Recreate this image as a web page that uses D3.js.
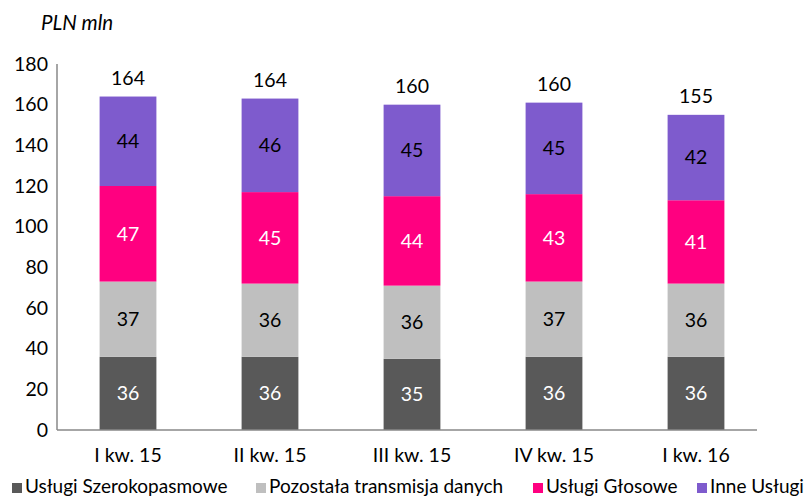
<!DOCTYPE html>
<html>
<head>
<meta charset="utf-8">
<script src="https://cdn.jsdelivr.net/npm/d3@7"></script>
<style>
  body { margin: 0; background: #fff; }
  svg text { font-family: Lato, "Open Sans", sans-serif; font-size: 19.5px; }
</style>
</head>
<body>
<div id="chart"></div>
<script>
// dane z wykresu
const quarters = ["I kw. 15", "II kw. 15", "III kw. 15", "IV kw. 15", "I kw. 16"];
const seriesNames = ["Usługi Szerokopasmowe", "Pozostała transmisja danych", "Usługi Głosowe", "Inne Usługi"];
const broadband = [36, 36, 35, 36, 36];
const otherData = [37, 36, 36, 37, 36];
const voice = [47, 45, 44, 43, 41];
const otherServices = [44, 46, 45, 45, 42];
const totals = [164, 164, 160, 160, 155];
const yTicks = [0, 20, 40, 60, 80, 100, 120, 140, 160, 180];

const colors = ["#595959", "#bfbfbf", "#ff0080", "#7e5bcd"];
const labelColors = ["#fff", "#000", "#fff", "#000"];

var width = 812, height = 499;

var svg = d3.select("#chart")
    .append("svg")
    .attr("width", width)
    .attr("height", height);

var x = d3.scaleBand()
    .domain(quarters)
    .range([57, 767])
    .paddingInner(0.6)
    .paddingOuter(0.3);

var y = d3.scaleLinear()
    .domain([0, 180])
    .range([430, 64]);

// tabela do stosu
var table = quarters.map((q, i) => ({
    q: q,
    s0: broadband[i], s1: otherData[i], s2: voice[i], s3: otherServices[i]
}));
var layers = d3.stack().keys(["s0", "s1", "s2", "s3"])(table);

// tytuł
svg.append("text")
    .attr("x", 41)
    .attr("y", 30)
    .style("font-size", "20.5px")
    .style("font-style", "italic")
    .text("PLN mln");

// oś Y
svg.append("line")
    .attr("x1", 57).attr("x2", 57)
    .attr("y1", y(180)).attr("y2", y(0))
    .attr("stroke", "#888").attr("stroke-width", 1.5);

svg.selectAll(".ytick")
    .data(yTicks)
    .enter()
    .append("text")
    .attr("x", 48)
    .attr("y", d => y(d))
    .attr("dy", "0.35em")
    .attr("text-anchor", "end")
    .text(d => d);

// słupki + etykiety
layers.forEach((layer, k) => {
    svg.selectAll(".bar" + k)
        .data(layer)
        .enter()
        .append("rect")
        .attr("x", d => x(d.data.q))
        .attr("width", x.bandwidth())
        .attr("y", d => y(d[1]))
        .attr("height", d => y(d[0]) - y(d[1]))
        .attr("fill", colors[k]);

    svg.selectAll(".lab" + k)
        .data(layer)
        .enter()
        .append("text")
        .attr("x", d => x(d.data.q) + x.bandwidth() / 2)
        .attr("y", d => (y(d[0]) + y(d[1])) / 2)
        .attr("dy", "0.35em")
        .attr("text-anchor", "middle")
        .attr("fill", labelColors[k])
        .text(d => d[1] - d[0]);
});

// sumy nad słupkami
svg.selectAll(".total")
    .data(totals)
    .enter()
    .append("text")
    .attr("x", (d, i) => x(quarters[i]) + x.bandwidth() / 2)
    .attr("y", (d, i) => y(layers[3][i][1]) - 12)
    .attr("text-anchor", "middle")
    .text(d => d);

// oś X
svg.append("line")
    .attr("x1", 57).attr("x2", 757)
    .attr("y1", y(0)).attr("y2", y(0))
    .attr("stroke", "#888").attr("stroke-width", 1.5);

svg.selectAll(".xtick")
    .data(quarters)
    .enter()
    .append("text")
    .attr("x", d => x(d) + x.bandwidth() / 2)
    .attr("y", 462)
    .attr("text-anchor", "middle")
    .text(d => d);

// legenda
var legendX = [12, 256, 533, 697];
var legend = svg.selectAll(".legend")
    .data(seriesNames)
    .enter()
    .append("g")
    .attr("transform", (d, i) => "translate(" + legendX[i] + ",493)");

legend.append("rect")
    .attr("x", 0).attr("y", -10)
    .attr("width", 10).attr("height", 10)
    .attr("fill", (d, i) => colors[i]);

legend.append("text")
    .attr("x", 13)
    .attr("y", 0)
    .style("font-size", "19px")
    .text(d => d);
</script>
</body>
</html>
